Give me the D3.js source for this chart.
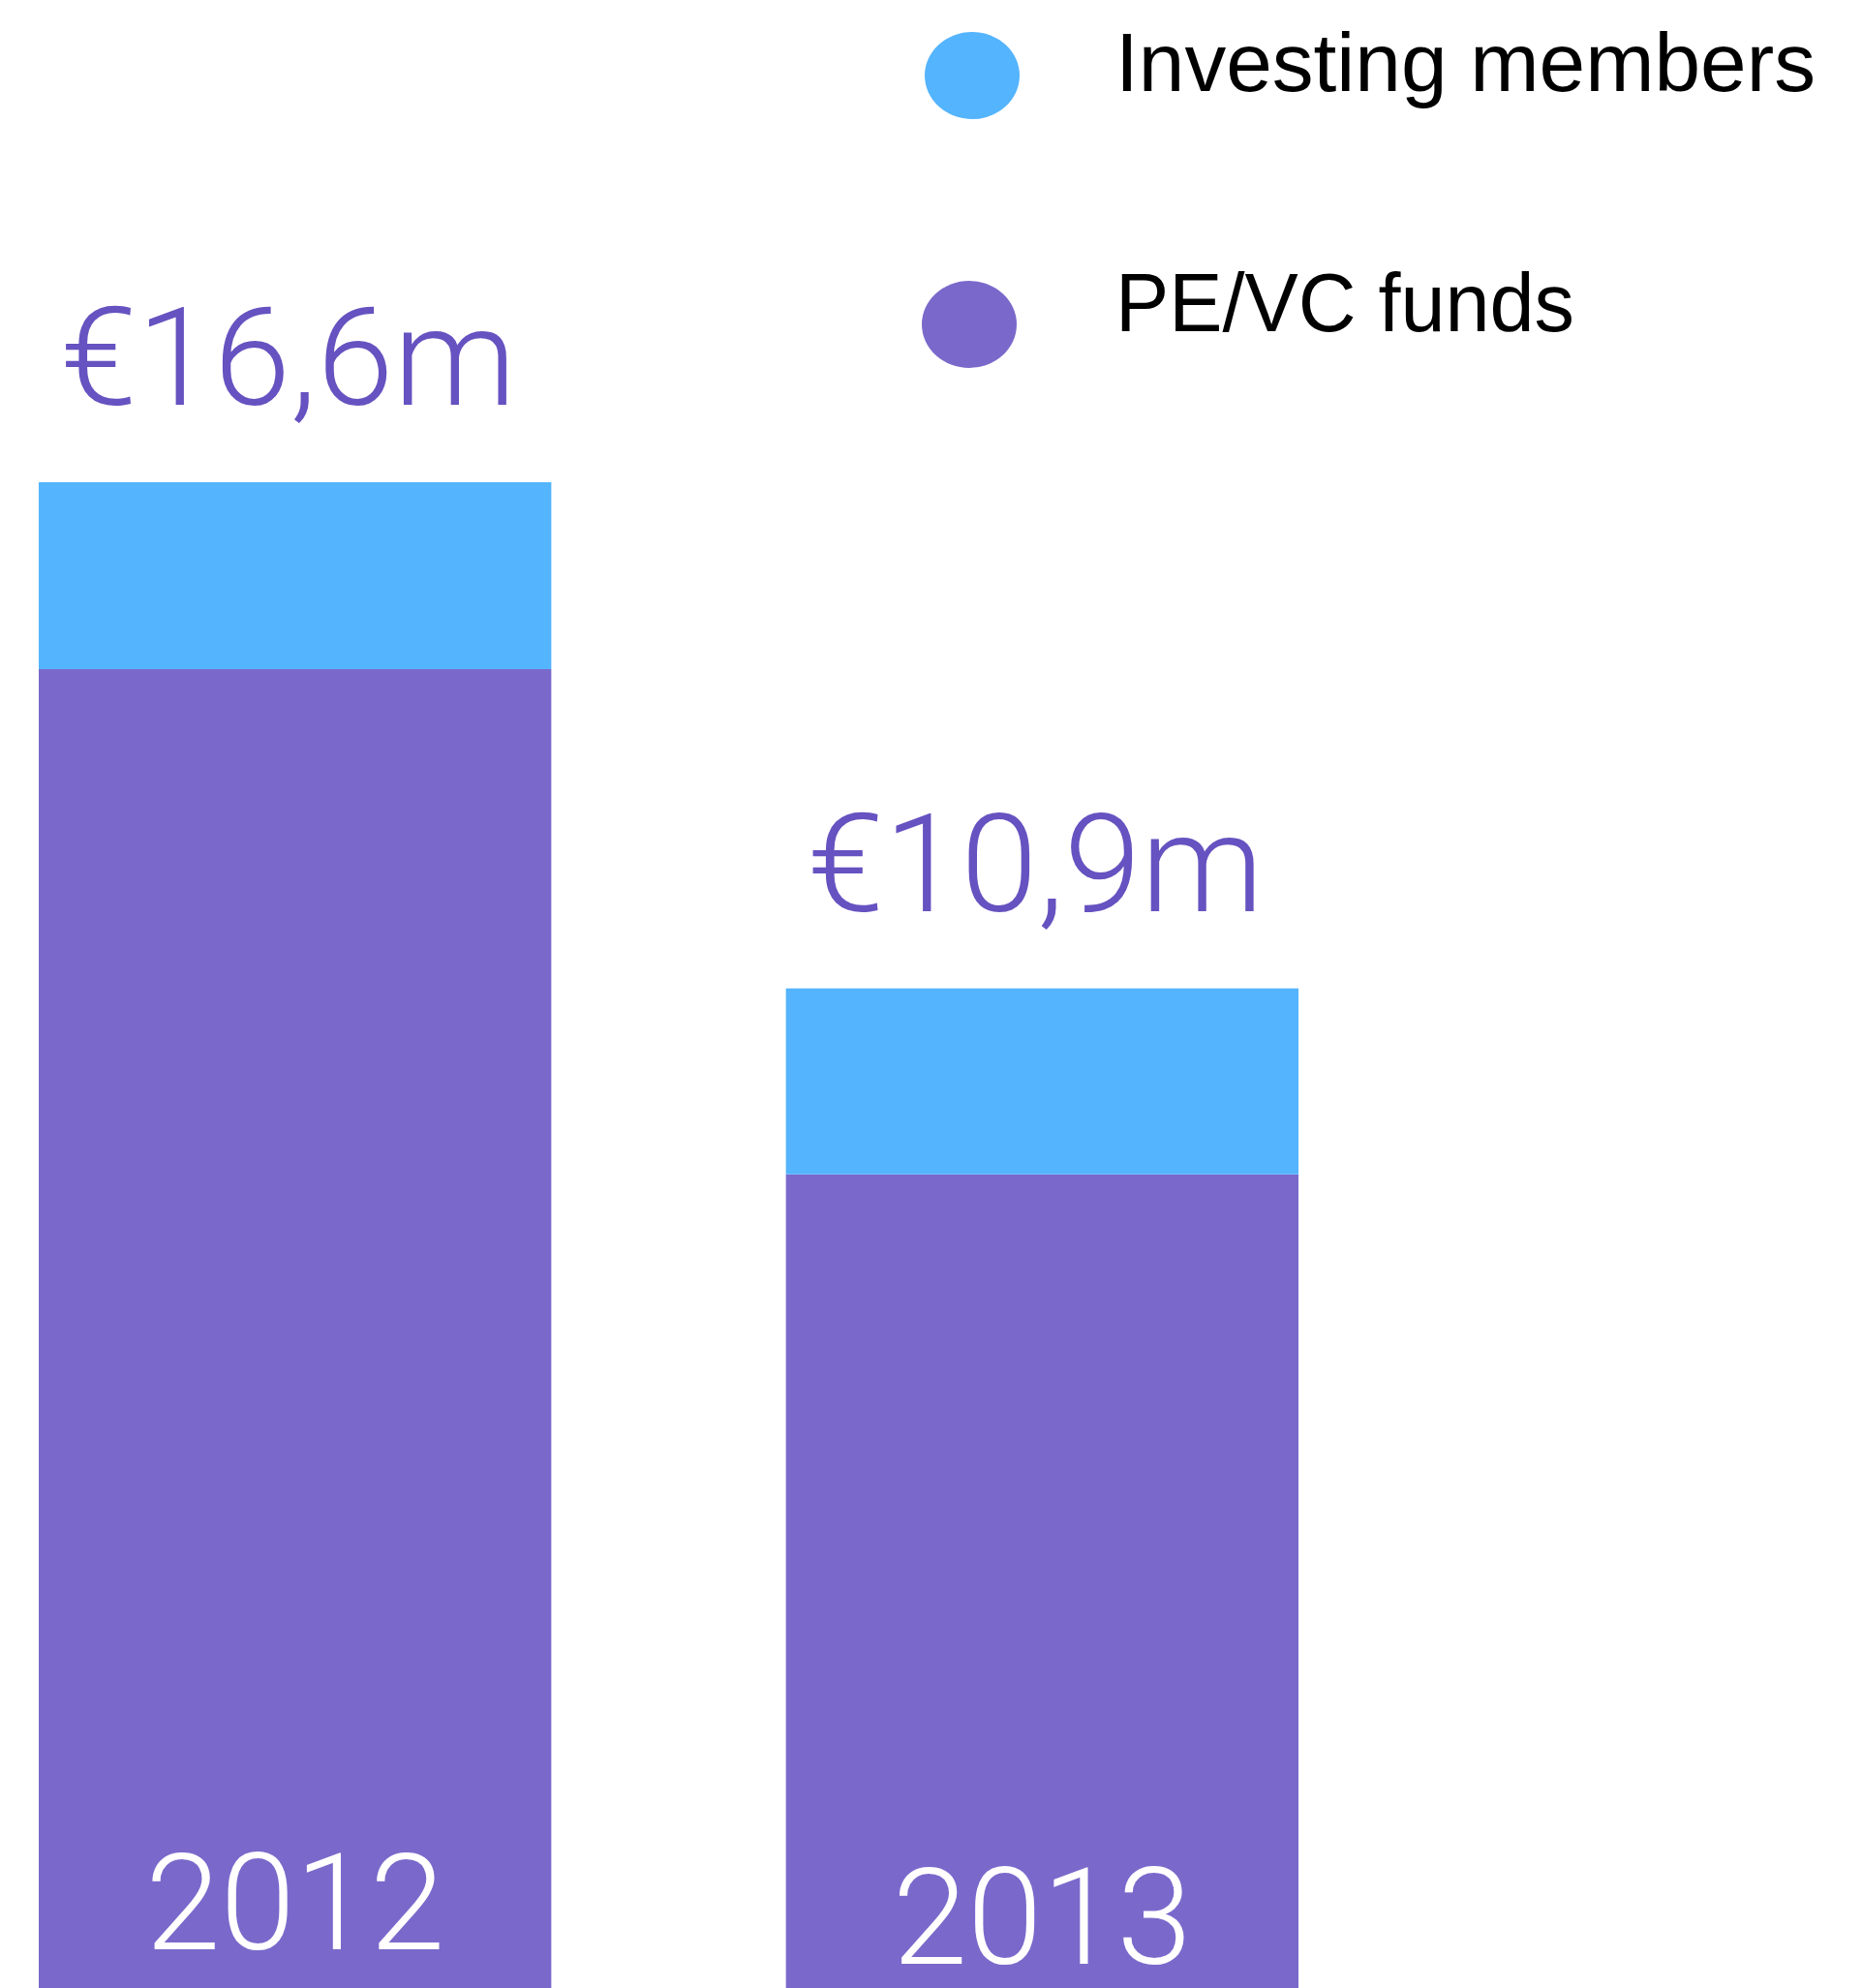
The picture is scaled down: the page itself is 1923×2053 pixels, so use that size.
<!DOCTYPE html>
<html>
<head>
<meta charset="utf-8">
<script src="https://cdn.jsdelivr.net/npm/d3@7"></script>
<style>
  html, body { margin: 0; padding: 0; background: #fff; }
  svg { display: block; }
</style>
</head>
<body>
<svg id="chart" width="1923" height="2053"></svg>
<script>
// data (millions of euro)
const years = ['2012', '2013'];
const peVcFunds = [14.54, 8.97];
const investingMembers = [2.06, 2.05];
const totalLabels = ['€16,6m', '€10,9m'];
const seriesNames = ['Investing members', 'PE/VC funds'];

const _color = { inv: '#54b4fd', pe: '#7a69cb', label: '#6652c0' };

const width = 1923, height = 2053;
const svg = d3.select('#chart');

const rows = years.map((y, i) => ({ year: y, pe: peVcFunds[i], inv: investingMembers[i] }));

const stack = d3.stack()
    .keys(['pe', 'inv'])
    .order(d3.stackOrderNone)
    .offset(d3.stackOffsetNone);
const _series = stack(rows);

// x scale
const x = d3.scaleBand()
    .domain(years)
    .range([40, 1341])
    .paddingInner(0.314)
    .paddingOuter(0);

// y scale, baseline at the bottom edge
const y = d3.scaleLinear()
    .domain([0, 16.6])
    .range([height, 498]);

// bars
svg.selectAll('.bars')
    .data(_series)
    .join('g')
    .attr('class', 'bars')
    .attr('fill', d => _color[d.key])
    .selectAll('rect')
    .data(d => d)
    .join('rect')
    .attr('x', d => x(d.data.year))
    .attr('width', x.bandwidth())
    .attr('y', d => y(d[1]))
    .attr('height', d => y(d[0]) - y(d[1]));

// totals above bars
svg.selectAll('.total')
    .data(rows)
    .join('text')
    .attr('class', 'total')
    .attr('x', d => x(d.year) + x.bandwidth() / 2 - 7)
    .attr('y', d => y(d.pe + d.inv) - 80)
    .attr('text-anchor', 'middle')
    .attr('textLength', 471)
    .attr('lengthAdjust', 'spacingAndGlyphs')
    .style('font', '300 141px Roboto')
    .attr('fill', _color.label)
    .text((d, i) => totalLabels[i]);

// year labels inside bars
const yearDy = [40, 25];
svg.selectAll('.year')
    .data(rows)
    .join('text')
    .attr('class', 'year')
    .attr('x', d => x(d.year) + x.bandwidth() / 2)
    .attr('y', (d, i) => height - yearDy[i])
    .attr('text-anchor', 'middle')
    .attr('textLength', 309)
    .attr('lengthAdjust', 'spacingAndGlyphs')
    .style('font', '300 140px Roboto')
    .attr('fill', '#fff')
    .text(d => d.year);

// legend
const legendKeys = ['inv', 'pe'];
const legend = svg.append('g').attr('class', 'legend');
const item = legend.selectAll('g')
    .data(seriesNames)
    .join('g')
    .attr('transform', (d, i) => `translate(0, ${[78, 335][i]})`);

item.append('ellipse')
    .attr('cx', (d, i) => [1004, 1001][i])
    .attr('cy', 0)
    .attr('rx', 49)
    .attr('ry', 45)
    .attr('fill', (d, i) => _color[legendKeys[i]]);

item.append('text')
    .attr('x', 1152)
    .attr('y', (d, i) => [16, 7][i])
    .attr('textLength', (d, i) => [723, 474][i])
    .attr('lengthAdjust', 'spacingAndGlyphs')
    .style('font', '86px "Liberation Sans", Arial, sans-serif')
    .attr('fill', '#000')
    .text(d => d);
</script>
</body>
</html>
